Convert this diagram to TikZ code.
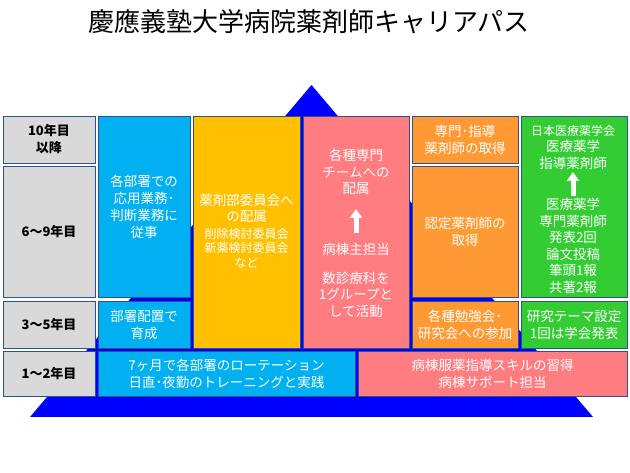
\documentclass[tikz,border=0pt]{standalone}
\usepackage{fontspec}
\setmainfont{Noto Sans CJK JP}
\usetikzlibrary{arrows.meta}
\definecolor{tri}{HTML}{0000FF}
\definecolor{bord}{HTML}{2F528F}
\definecolor{grayc}{HTML}{D9D9D9}
\definecolor{cyanc}{HTML}{00B0F0}
\definecolor{yellc}{HTML}{FFC000}
\definecolor{pinkc}{HTML}{FF7C80}
\definecolor{orc}{HTML}{FF9933}
\definecolor{grc}{HTML}{33CC33}
\tikzset{
  box/.style={draw=bord, line width=0.8pt, inner sep=0pt, align=center, text=white,
    font=\fontsize{13.5}{17}\selectfont},
  yearbox/.style={box, fill=grayc, text=black, font=\fontsize{13}{17}\selectfont\bfseries},
  txt/.style={inner sep=0pt, align=center, text=white, font=\fontsize{13.5}{16.5}\selectfont},
  smalltxt/.style={inner sep=0pt, align=center, text=white, font=\fontsize{12}{14.5}\selectfont},
  uparrow/.style={draw=white, line width=5pt, -{Triangle[width=12pt,length=9pt]}}
}
\begin{document}
\begin{tikzpicture}[x=1pt,y=-1pt]
\useasboundingbox (0,0) rectangle (630,473);
% title
\node[inner sep=0pt, font=\fontsize{26}{29}\selectfont] (title) at (309,22) {慶應義塾大学病院薬剤師キャリアパス};
% pyramid
\fill[tri] (311.5,85) -- (593,417) -- (30,417) -- cycle;
% year labels
\node[yearbox, minimum width=92pt, minimum height=47pt] (y10) at (49,139.5) {10年目\\以降};
\node[yearbox, minimum width=92pt, minimum height=131pt] (y6) at (49,231.5) {6～9年目};
\node[yearbox, minimum width=92pt, minimum height=47pt] (y3) at (49,324.5) {3～5年目};
\node[yearbox, minimum width=92pt, minimum height=45pt] (y1) at (49,373.5) {1～2年目};
% column 2 (cyan)
\node[box, fill=cyanc, minimum width=92pt, minimum height=181pt] (cA) at (144,206.5) {各部署での\\応用業務･\\判断業務に\\従事};
\node[box, fill=cyanc, minimum width=92pt, minimum height=47pt] (cB) at (144,324.5) {部署配置で\\育成};
% column 3 (yellow)
\node[box, fill=yellc, minimum width=107pt, minimum height=232pt] (yl) at (246.5,232) {};
\node[txt] (ylt) at (246.5,208.5) {薬剤部委員会へ\\の配属};
\node[smalltxt] (yls) at (246.5,248) {削除検討委員会\\新薬検討委員会\\など};
% column 4 (pink)
\node[box, fill=pinkc, minimum width=106pt, minimum height=232pt] (pk) at (356,232) {};
\node[txt] (pk1) at (356,172) {各種専門\\チームへの\\配属};
\node[txt] (pk2) at (356,249) {病棟主担当};
\node[txt] (pk3) at (356,294.5) {数診療科を\\1グループと\\して活動};
\coordinate (pkaS) at (356,233);
\coordinate (pkaN) at (356,209);
\draw[uparrow] (pkaS) -- (pkaN);
% column 5 (orange)
\node[box, fill=orc, minimum width=106pt, minimum height=47pt] (oA) at (465,139.5) {専門･指導\\薬剤師の取得};
\node[box, fill=orc, minimum width=106pt, minimum height=131pt] (oB) at (465,231.5) {認定薬剤師の\\取得};
\node[box, fill=orc, minimum width=106pt, minimum height=47pt] (oC) at (465,324.5) {各種勉強会･\\研究会への参加};
% column 6 (green)
\node[box, fill=grc, minimum width=106pt, minimum height=181pt] (gA) at (574,206.5) {};
\node[smalltxt] (gA1) at (573,131) {日本医療薬学会};
\node[txt] (gA2) at (573,155) {医療薬学\\指導薬剤師};
\node[txt] (gA3) at (573,246) {医療薬学\\専門薬剤師\\発表2回\\論文投稿\\筆頭1報\\共著2報};
\coordinate (gaS) at (573,196);
\coordinate (gaN) at (573,172);
\draw[uparrow] (gaS) -- (gaN);
\node[box, fill=grc, minimum width=106pt, minimum height=47pt] (gB) at (574,324.5) {研究テーマ設定\\1回は学会発表};
% bottom row
\node[box, fill=cyanc, minimum width=257pt, minimum height=45pt] (bB) at (226.5,373.5) {7ヶ月で各部署のローテーション\\日直･夜勤のトレーニングと実践};
\node[box, fill=pinkc, minimum width=269pt, minimum height=45pt] (bP) at (492.5,373.5) {病棟服薬指導スキルの習得\\病棟サポート担当};
\end{tikzpicture}
\end{document}
